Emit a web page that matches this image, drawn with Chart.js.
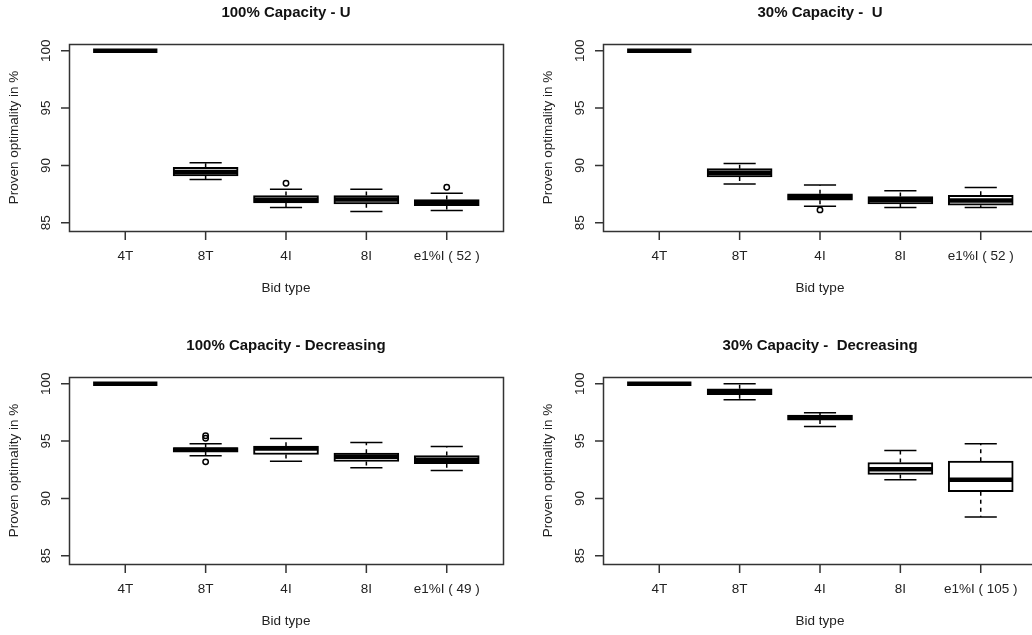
<!DOCTYPE html>
<html>
<head>
<meta charset="utf-8">
<script src="https://cdn.jsdelivr.net/npm/chart.js@4.4.1/dist/chart.umd.min.js"></script>
<style>
  html, body { margin: 0; padding: 0; background: #fff; overflow: hidden; width: 1032px; height: 635px; }
  canvas { position: absolute; }
</style>
</head>
<body>
<canvas id="u100" width="534" height="333" style="left:0;top:0;width:534px;height:333px"></canvas>
<canvas id="u30" width="534" height="333" style="left:534px;top:0;width:534px;height:333px"></canvas>
<canvas id="d100" width="534" height="333" style="left:0;top:333px;width:534px;height:333px"></canvas>
<canvas id="d30" width="534" height="333" style="left:534px;top:333px;width:534px;height:333px"></canvas>
<script>
// bid types (last one carries the number of instances)
const bidU100 = ['4T', '8T', '4I', '8I', 'e1%I ( 52 )'];
const bidU30 = ['4T', '8T', '4I', '8I', 'e1%I ( 52 )'];
const bidD100 = ['4T', '8T', '4I', '8I', 'e1%I ( 49 )'];
const bidD30 = ['4T', '8T', '4I', '8I', 'e1%I ( 105 )'];

// five number summaries per bid type: [lower whisker, q1, median, q3, upper whisker]
const statsU100 = [
  [100, 100, 100, 100, 100],
  [88.77, 89.09, 89.43, 89.84, 90.24],
  [86.32, 86.73, 87.0, 87.37, 87.93],
  [85.98, 86.65, 87.02, 87.37, 87.93],
  [86.06, 86.5, 86.79, 87.02, 87.58]
];
const statsU30 = [
  [100, 100, 100, 100, 100],
  [88.39, 89.0, 89.35, 89.72, 90.16],
  [86.44, 86.97, 87.23, 87.52, 88.3],
  [86.32, 86.65, 87.0, 87.28, 87.8],
  [86.32, 86.53, 86.94, 87.4, 88.07]
];
const statsD100 = [
  [100, 100, 100, 100, 100],
  [93.72, 94.04, 94.24, 94.44, 94.76],
  [93.25, 93.83, 94.36, 94.56, 95.23],
  [92.67, 93.22, 93.63, 93.95, 94.88],
  [92.43, 93.02, 93.37, 93.74, 94.53]
];
const statsD30 = [
  [100, 100, 100, 100, 100],
  [98.6, 99.04, 99.33, 99.56, 100],
  [96.27, 96.83, 97.06, 97.27, 97.47],
  [91.62, 92.09, 92.55, 93.13, 94.18],
  [88.37, 90.58, 91.62, 93.25, 94.76]
];

// outliers per bid type
const outU100 = [[], [], [88.45], [], [88.1]];
const outU30 = [[], [], [86.12], [], []];
const outD100 = [[], [95.46, 95.25, 93.19], [], [], []];
const outD30 = [[], [], [], [], []];

const yTicks = [85, 90, 95, 100];

const FONT = '"Liberation Sans", Arial, sans-serif';

// draws the R style boxplot parts and axes using the chart scales
const rPlot = {
  id: 'rPlot',
  beforeDatasetsDraw(chart, args, opts) {
    const { ctx, scales: { x, y } } = chart;
    ctx.save();
    ctx.strokeStyle = '#000';
    ctx.lineWidth = 1.5;
    opts.stats.forEach((s, i) => {
      const cx = x.getPixelForValue(i + 1);
      const sl = x.getPixelForValue(i + 1 - 0.2);
      const sr = x.getPixelForValue(i + 1 + 0.2);
      // dashed whiskers
      ctx.setLineDash([4, 4]);
      ctx.beginPath();
      ctx.moveTo(cx, y.getPixelForValue(s[3]));
      ctx.lineTo(cx, y.getPixelForValue(s[4]));
      ctx.moveTo(cx, y.getPixelForValue(s[1]));
      ctx.lineTo(cx, y.getPixelForValue(s[0]));
      ctx.stroke();
      // staples
      ctx.setLineDash([]);
      ctx.beginPath();
      const yh = y.getPixelForValue(s[4]);
      const yl = y.getPixelForValue(s[0]);
      ctx.moveTo(sl, yh); ctx.lineTo(sr, yh);
      ctx.moveTo(sl, yl); ctx.lineTo(sr, yl);
      ctx.stroke();
    });
    ctx.restore();
  },
  afterDatasetsDraw(chart, args, opts) {
    const { ctx, scales: { x, y } } = chart;
    ctx.save();
    ctx.strokeStyle = '#000';
    ctx.lineWidth = 4.5;
    ctx.lineCap = 'butt';
    opts.stats.forEach((s, i) => {
      const ym = y.getPixelForValue(s[2]);
      ctx.beginPath();
      ctx.moveTo(x.getPixelForValue(i + 1 - 0.4), ym);
      ctx.lineTo(x.getPixelForValue(i + 1 + 0.4), ym);
      ctx.stroke();
    });
    ctx.restore();
  },
  afterDraw(chart, args, opts) {
    const { ctx, chartArea: a, scales: { x, y } } = chart;
    ctx.save();
    ctx.strokeStyle = '#333';
    ctx.lineWidth = 1.5;
    ctx.strokeRect(a.left + 0.5, a.top + 0.5, a.right - a.left, a.bottom - a.top);

    ctx.fillStyle = '#222';
    ctx.font = '13.5px ' + FONT;
    ctx.textAlign = 'center';
    ctx.textBaseline = 'middle';

    // y ticks and rotated labels
    ctx.beginPath();
    yTicks.forEach(v => {
      const py = y.getPixelForValue(v);
      ctx.moveTo(a.left - 8, py);
      ctx.lineTo(a.left, py);
    });
    ctx.stroke();
    yTicks.forEach(v => {
      ctx.save();
      ctx.translate(a.left - 23, y.getPixelForValue(v));
      ctx.rotate(-Math.PI / 2);
      ctx.fillText(String(v), 0, 0);
      ctx.restore();
    });

    // x ticks and labels
    ctx.beginPath();
    opts.labels.forEach((lab, i) => {
      const px = x.getPixelForValue(i + 1);
      ctx.moveTo(px, a.bottom + 1);
      ctx.lineTo(px, a.bottom + 9);
    });
    ctx.stroke();
    opts.labels.forEach((lab, i) => {
      ctx.fillText(lab, x.getPixelForValue(i + 1), a.bottom + 25);
    });

    // axis titles
    const mid = (a.left + a.right) / 2;
    ctx.fillText('Bid type', mid, a.bottom + 57.5);
    ctx.save();
    ctx.translate(a.left - 55, (a.top + a.bottom) / 2);
    ctx.rotate(-Math.PI / 2);
    ctx.fillText('Proven optimality in %', 0, 0);
    ctx.restore();

    // main title
    ctx.font = 'bold 15px ' + FONT;
    ctx.fillStyle = '#111';
    ctx.fillText(opts.title, mid, a.top - 31.5);
    ctx.restore();
  }
};

function makeBoxChart(id, title, labels, stats, outliers) {
  const boxes = stats.map((s, i) => ({ x: i + 1, y: [s[1], s[3]] }));
  const points = [];
  outliers.forEach((vals, i) => vals.forEach(v => points.push({ x: i + 1, y: v })));

  return new Chart(document.getElementById(id).getContext('2d'), {
    type: 'bar',
    data: {
      datasets: [{
        type: 'bar',
        data: boxes,
        backgroundColor: '#fff',
        borderColor: '#000',
        borderWidth: 2,
        borderSkipped: false,
        barThickness: 65
      }, {
        type: 'scatter',
        data: points,
        pointStyle: 'circle',
        pointRadius: 2.7,
        backgroundColor: 'rgba(0,0,0,0)',
        borderColor: '#000',
        borderWidth: 1.5
      }]
    },
    options: {
      responsive: false,
      animation: false,
      events: [],
      layout: { padding: { left: 69, right: 31, top: 44, bottom: 102 } },
      scales: {
        x: { type: 'linear', min: 0.3, max: 5.7, offset: false, display: false },
        y: { type: 'linear', min: 84.28, max: 100.59, display: false }
      },
      plugins: {
        legend: { display: false },
        tooltip: { enabled: false },
        rPlot: { title: title, labels: labels, stats: stats }
      }
    },
    plugins: [rPlot]
  });
}

makeBoxChart('u100', '100% Capacity - U', bidU100, statsU100, outU100);
makeBoxChart('u30', '30% Capacity -  U', bidU30, statsU30, outU30);
makeBoxChart('d100', '100% Capacity - Decreasing', bidD100, statsD100, outD100);
makeBoxChart('d30', '30% Capacity -  Decreasing', bidD30, statsD30, outD30);
</script>
</body>
</html>
